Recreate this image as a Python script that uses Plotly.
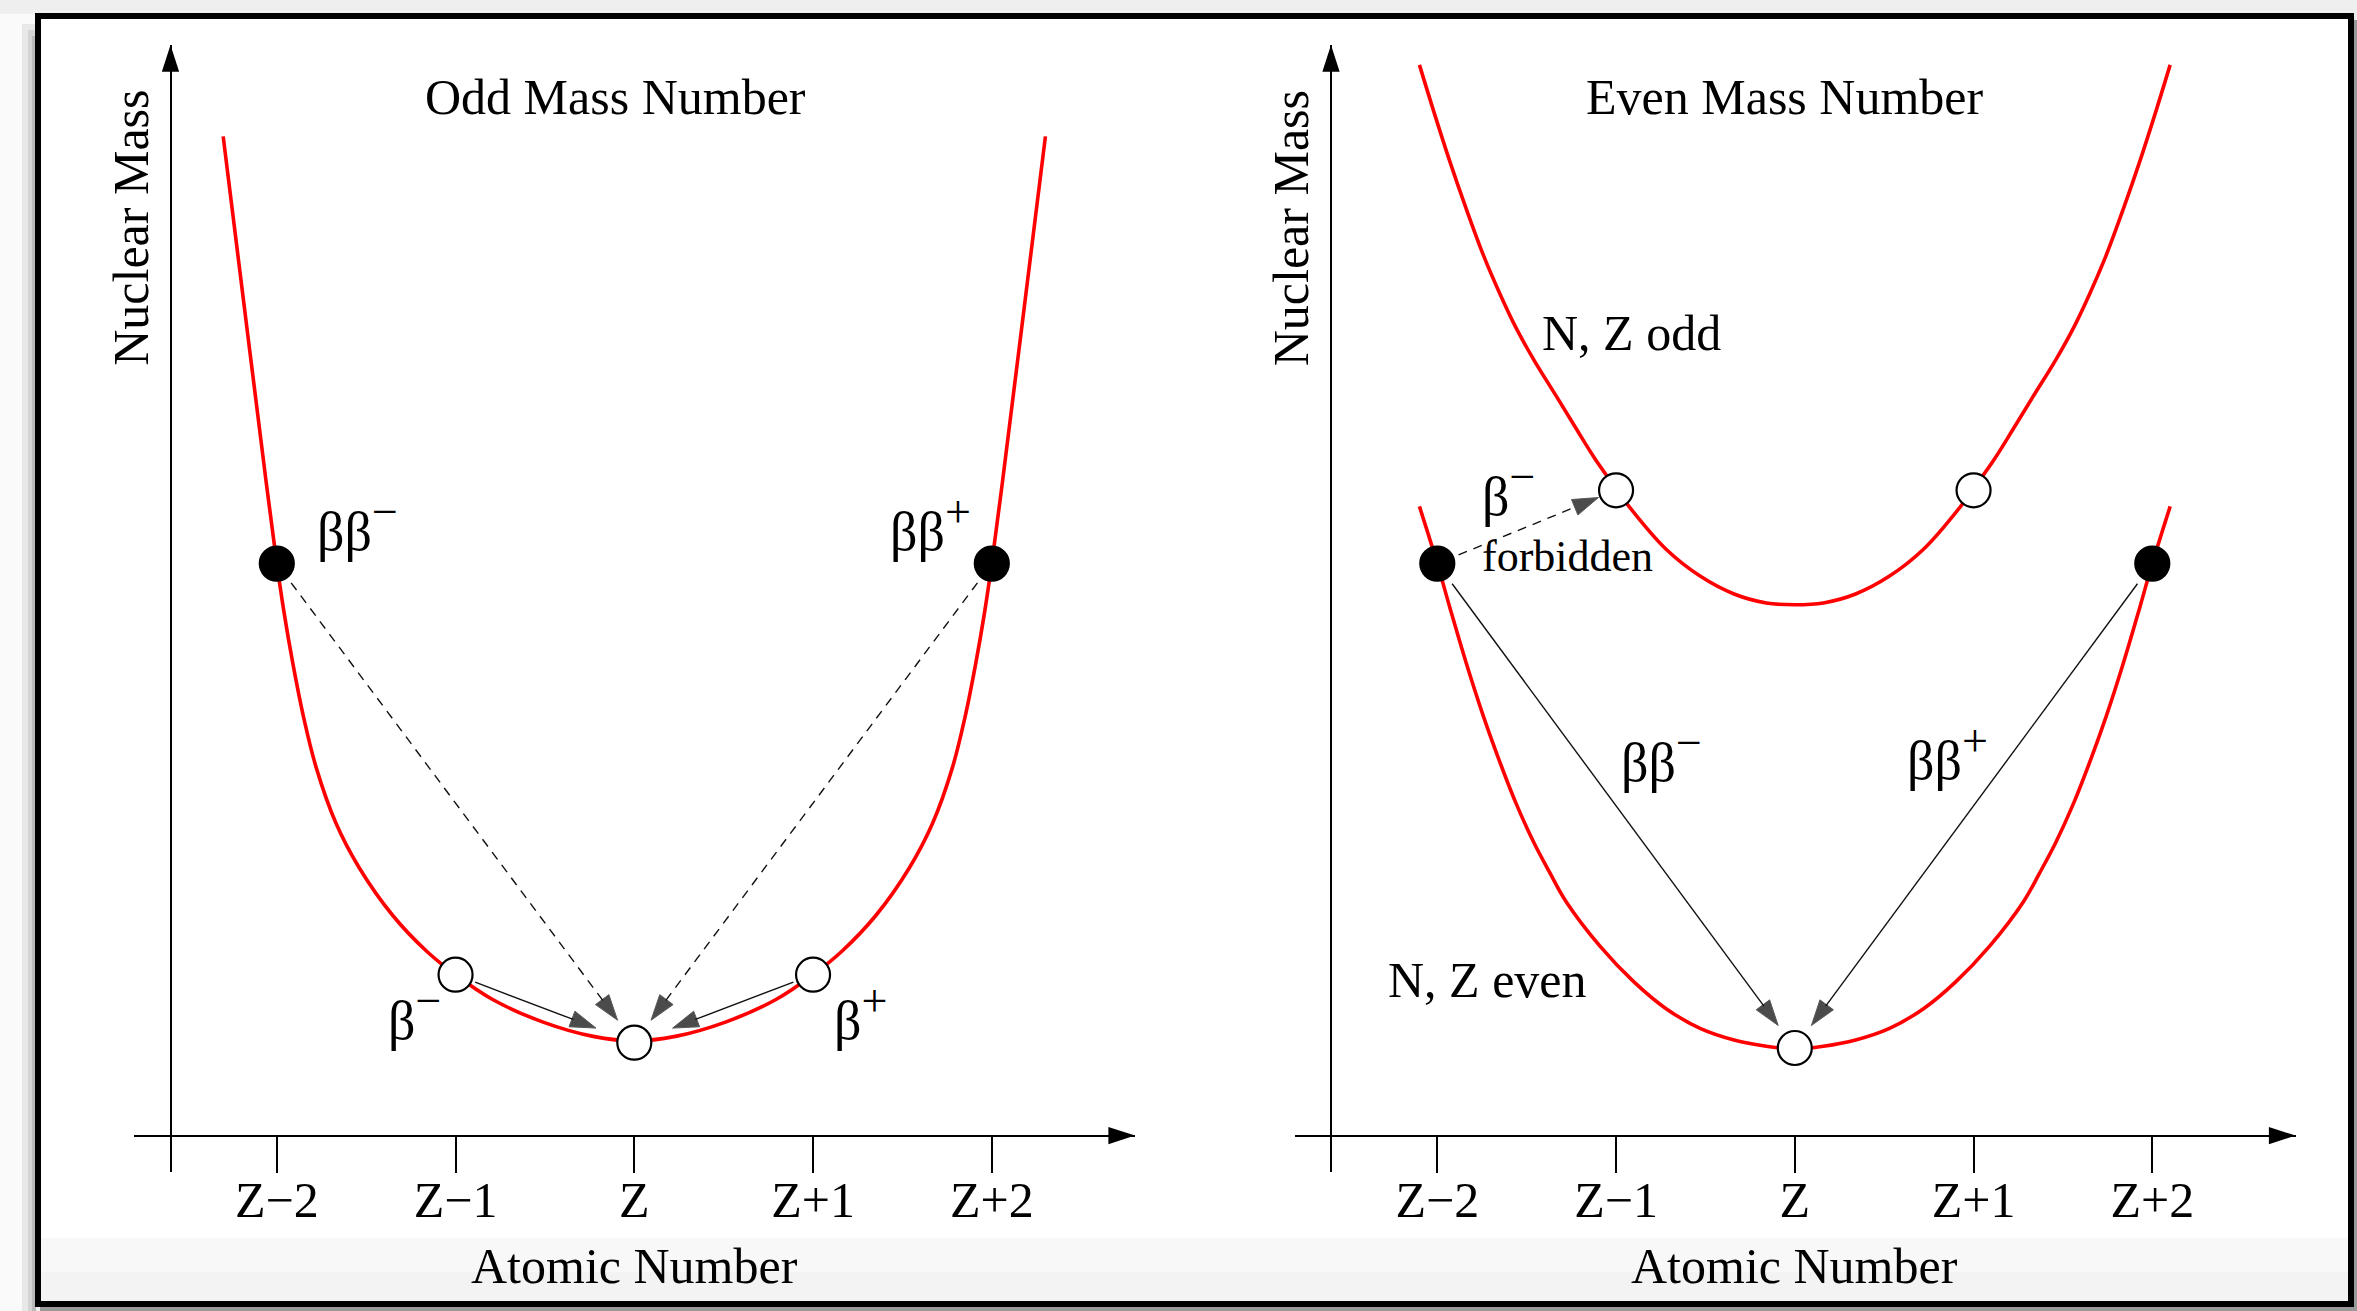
import math
import plotly.graph_objects as go

W, H = 2357, 1311

# ---------------- data ----------------
z_offsets = [-2, -1, 0, 1, 2]
z_labels = ["Z\u22122", "Z\u22121", "Z", "Z+1", "Z+2"]

# Odd mass number parabola (relative atomic number, nuclear mass in arbitrary units)
odd_x = [-2.30, -2.16, -2.06, -2.00, -1.96, -1.91, -1.85, -1.78, -1.67, -1.54, -1.35, -1.16,
         -1.00, -0.79, -0.51, -0.23, 0.00, 0.23, 0.51, 0.79, 1.00, 1.16, 1.35, 1.54, 1.67,
         1.78, 1.85, 1.91, 1.96, 2.00, 2.06, 2.16, 2.30]
odd_y = [5.59, 4.46, 3.66, 3.20, 2.93, 2.64, 2.34, 2.06, 1.75, 1.50, 1.23, 1.03,
         0.90, 0.76, 0.635, 0.555, 0.53, 0.555, 0.635, 0.76, 0.90, 1.03, 1.23, 1.50, 1.75,
         2.06, 2.34, 2.64, 2.93, 3.20, 3.66, 4.46, 5.59]

# Even mass number: N, Z odd (upper) parabola
oo_x = [-2.10, -2.02, -1.93, -1.84, -1.74, -1.65, -1.56, -1.46, -1.33, -1.22, -1.12, -1.00,
        -0.92, -0.72, -0.53, -0.34, -0.16, 0.00, 0.16, 0.34, 0.53, 0.72, 0.92, 1.00, 1.12,
        1.22, 1.33, 1.46, 1.56, 1.65, 1.74, 1.84, 1.93, 2.02, 2.10]
oo_y = [5.99, 5.73, 5.45, 5.19, 4.92, 4.71, 4.52, 4.34, 4.13, 3.95, 3.79, 3.62,
        3.51, 3.28, 3.13, 3.03, 2.98, 2.97, 2.98, 3.03, 3.13, 3.28, 3.51, 3.62, 3.79,
        3.95, 4.13, 4.34, 4.52, 4.71, 4.92, 5.19, 5.45, 5.73, 5.99]

# Even mass number: N, Z even (lower) parabola
ee_x = [-2.10, -2.00, -1.93, -1.84, -1.74, -1.65, -1.56, -1.46, -1.37, -1.28, -1.09, -0.90,
        -0.72, -0.53, -0.34, -0.16, 0.00, 0.16, 0.34, 0.53, 0.72, 0.90, 1.09, 1.28, 1.37,
        1.46, 1.56, 1.65, 1.74, 1.84, 1.93, 2.00, 2.10]
ee_y = [3.52, 3.20, 2.955, 2.65, 2.34, 2.09, 1.86, 1.64, 1.47, 1.31, 1.06, 0.86,
        0.71, 0.60, 0.535, 0.50, 0.485, 0.50, 0.535, 0.60, 0.71, 0.86, 1.06, 1.31, 1.47,
        1.64, 1.86, 2.09, 2.34, 2.65, 2.955, 3.20, 3.52]

# nuclides (dots)
odd_filled_x = [-2, 2]
odd_filled_y = [3.20, 3.20]
odd_open_x = [-1, 0, 1]
odd_open_y = [0.90, 0.52, 0.90]

even_filled_x = [-2, 2]
even_filled_y = [3.20, 3.20]
even_open_x = [-1, 1, 0]
even_open_y = [3.61, 3.61, 0.49]

# decays: (source set, index, target set, index, dashed?)
odd_decays = [("filled", 0, "open", 1, True), ("filled", 1, "open", 1, True),
              ("open", 0, "open", 1, False), ("open", 2, "open", 1, False)]
even_decays = [("filled", 0, "open", 0, True), ("filled", 0, "open", 2, False),
               ("filled", 1, "open", 2, False)]

# ---------------- geometry / style ----------------
U = 178.75          # px per data unit (both axes)
AXIS_Y = 1135.6     # px row of the atomic-number axis
PANEL_Z = [634.3, 1794.8]
X_LO, X_HI = 500.3, 500.7
Y_TOP, Y_BOT = 45.0, 1171.5
YAX_OFF = 463.8

FONT = "Liberation Serif"
RED = "#ff0000"
INK = "#111111"

fig = go.Figure()


def px_x(p):
    return p / W


def px_y(p):
    return 1 - p / H


def add_arrow(x0, y0, x1, y1, dashed, gap0, gap1, xa, ya):
    dx, dy = x1 - x0, y1 - y0
    d = math.hypot(dx, dy)
    ux, uy = dx / d, dy / d
    xs = [x0 + ux * gap0 / U, x1 - ux * gap1 / U]
    ys = [y0 + uy * gap0 / U, y1 - uy * gap1 / U]
    fig.add_trace(go.Scatter(
        x=xs, y=ys, mode="lines+markers", xaxis=xa, yaxis=ya, cliponaxis=False,
        line=dict(color=INK, width=1.4, dash="9px,7px" if dashed else "solid"),
        marker=dict(symbol="arrow", size=[0, 27], angleref="previous", color="black"),
        hoverinfo="skip"))


def curve(x, y, xa, ya):
    fig.add_trace(go.Scatter(x=x, y=y, mode="lines", xaxis=xa, yaxis=ya,
                             line=dict(color=RED, width=3.6, shape="spline", smoothing=1.0),
                             hoverinfo="skip"))


def dots(x, y, filled, xa, ya):
    fig.add_trace(go.Scatter(x=x, y=y, mode="markers", xaxis=xa, yaxis=ya, cliponaxis=False,
                             marker=dict(size=34, color="black" if filled else "white",
                                         line=dict(color="black", width=2.2)),
                             hoverinfo="skip"))


panels = [
    dict(xa="x", ya="y", curves=[(odd_x, odd_y)],
         filled=(odd_filled_x, odd_filled_y), open=(odd_open_x, odd_open_y),
         decays=odd_decays, gaps={True: (24, 28), False: (21, 41)}, title="Odd Mass Number"),
    dict(xa="x2", ya="y2", curves=[(oo_x, oo_y), (ee_x, ee_y)],
         filled=(even_filled_x, even_filled_y), open=(even_open_x, even_open_y),
         decays=even_decays, gaps={True: (23, 19), False: (25, 28)}, title="Even Mass Number"),
]

annotations = []


def label(text, x, y, xa, ya, size=50, xanchor="center", angle=0):
    annotations.append(dict(text=text, x=x, y=y, xref=xa, yref=ya, showarrow=False,
                            xanchor=xanchor, yanchor="middle", textangle=angle,
                            font=dict(family=FONT, size=size, color="black")))


def beta(prefix, sign):
    return prefix + "<sup><span style=\"font-size:46px\">" + sign + "</span></sup>"


for i, p in enumerate(panels):
    xa, ya = p["xa"], p["ya"]
    for cx, cy in p["curves"]:
        curve(cx, cy, xa, ya)
    sets = {"filled": p["filled"], "open": p["open"]}
    for s, si, t, ti, dashed in p["decays"]:
        g0, g1 = p["gaps"][dashed]
        add_arrow(sets[s][0][si], sets[s][1][si], sets[t][0][ti], sets[t][1][ti],
                  dashed, g0, g1, xa, ya)
    dots(p["filled"][0], p["filled"][1], True, xa, ya)
    dots(p["open"][0], p["open"][1], False, xa, ya)

    # axis arrow heads
    x_hi = X_HI / U
    y_hi = (AXIS_Y - Y_TOP) / U
    yax_x = -YAX_OFF / U
    fig.add_trace(go.Scatter(x=[x_hi], y=[0], mode="markers", xaxis=xa, yaxis=ya, cliponaxis=False,
                             marker=dict(symbol="arrow", angle=90, size=28, color="black"),
                             hoverinfo="skip"))
    fig.add_trace(go.Scatter(x=[yax_x], y=[y_hi], mode="markers", xaxis=xa, yaxis=ya, cliponaxis=False,
                             marker=dict(symbol="arrow", angle=0, size=28, color="black"),
                             hoverinfo="skip"))

    zpx = PANEL_Z[i]
    axx = dict(domain=[px_x(zpx - X_LO), px_x(zpx + X_HI)], range=[-X_LO / U, X_HI / U],
               anchor="free", position=px_y(AXIS_Y), showline=True, linewidth=2, linecolor="black",
               ticks="outside", ticklen=36, tickwidth=1.5, tickcolor="black",
               tickvals=z_offsets, ticktext=z_labels, ticklabelstandoff=-16,
               tickfont=dict(family=FONT, size=50, color="black"),
               showgrid=False, zeroline=False, fixedrange=True)
    axy = dict(domain=[px_y(Y_BOT), px_y(Y_TOP)], range=[(AXIS_Y - Y_BOT) / U, (AXIS_Y - Y_TOP) / U],
               anchor="free", position=px_x(zpx - YAX_OFF), showline=True, linewidth=2,
               linecolor="black", ticks="", showticklabels=False, showgrid=False,
               zeroline=False, fixedrange=True)
    key = "" if i == 0 else "2"
    fig.update_layout(**{"xaxis" + key: axx, "yaxis" + key: axy})

    label(p["title"], -0.105 if i == 0 else -0.06, 5.81, xa, ya)
    # axis titles live outside the data range -> paper coordinates
    label("Nuclear Mass", px_x(zpx - 503.5), px_y(228), "paper", "paper", angle=-90)
    label("Atomic Number", 0, px_y(1265.5), xa, "paper")

# panel-specific labels
label(beta("\u03b2\u03b2", "\u2212"), -1.546, 3.42, "x", "y", size=54)
label(beta("\u03b2\u03b2", "+"), 1.656, 3.42, "x", "y", size=54)
label(beta("\u03b2", "\u2212"), -1.228, 0.685, "x", "y", size=54)
label(beta("\u03b2", "+"), 1.264, 0.685, "x", "y", size=54)

label("N, Z odd", -1.425, 4.49, "x2", "y2", xanchor="left")
label(beta("\u03b2", "\u2212"), -1.60, 3.62, "x2", "y2", size=54)
label("forbidden", -1.761, 3.24, "x2", "y2", size=44, xanchor="left")
label(beta("\u03b2\u03b2", "\u2212"), -0.743, 2.13, "x2", "y2", size=54)
label(beta("\u03b2\u03b2", "+"), 0.852, 2.14, "x2", "y2", size=54)
label("N, Z even", -2.287, 0.87, "x2", "y2", xanchor="left")

# page / frame decoration
shapes = []


def rect(x0, y0, x1, y1, fill, line=None, lw=0):
    shapes.append(dict(type="rect", xref="paper", yref="paper", layer="below",
                       x0=px_x(x0), x1=px_x(x1), y0=px_y(y1), y1=px_y(y0),
                       fillcolor=fill, line=dict(width=lw, color=line or fill)))


rect(0, 14, 36, H, "#fafafa")
rect(22, 24, 36, H, "#e8e8e8")
rect(28, 30, 36, H, "#d4d4d4")
rect(32, 36, 36, H, "#bababa")
rect(40, 20, W, H, "#9a9a9a")
rect(38, 16, 2351, 1304, "white", "black", 6)
rect(41, 1238, 2348, 1301, "#f8f8f8")
rect(41, 1272, 2348, 1301, "#f3f3f3")

fig.update_layout(width=W, height=H, margin=dict(l=0, r=0, t=0, b=0),
                  paper_bgcolor="#efefef", plot_bgcolor="rgba(0,0,0,0)",
                  showlegend=False, annotations=annotations, shapes=shapes)

fig.write_html("out.html")
